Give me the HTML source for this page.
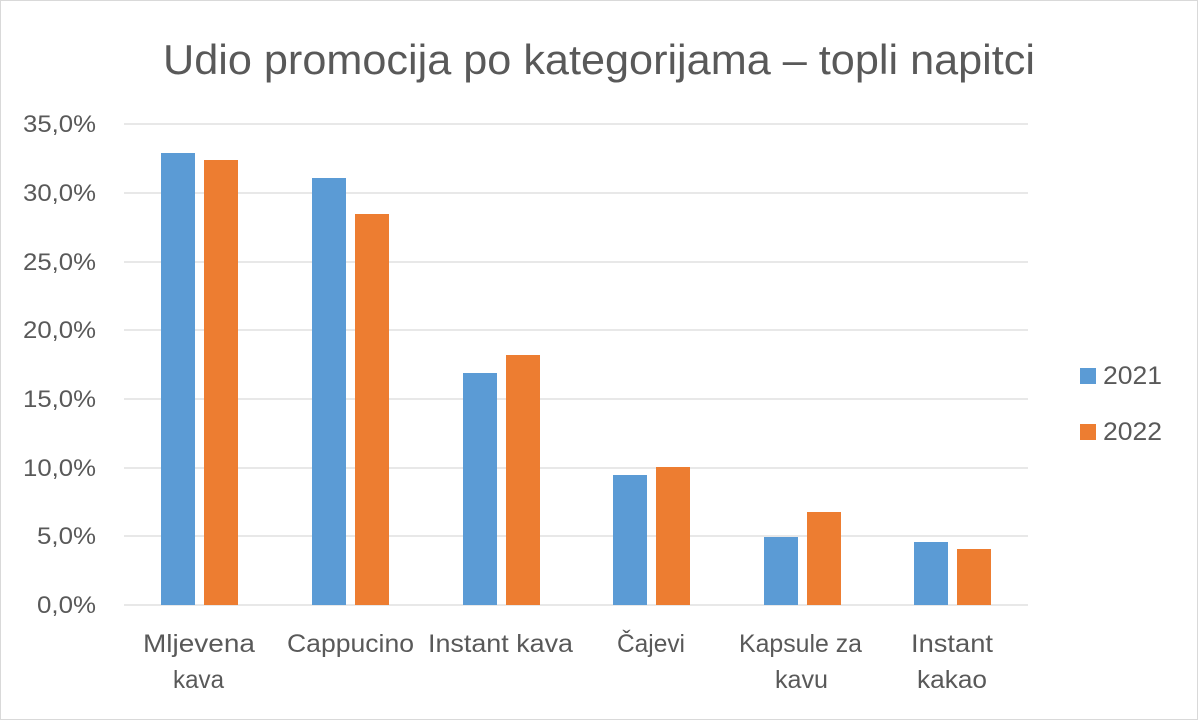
<!DOCTYPE html>
<html><head><meta charset="utf-8"><style>
html,body{margin:0;padding:0;background:#fff;}
svg{display:block;font-family:"Liberation Sans","DejaVu Sans",sans-serif;}
</style></head><body>
<svg width="1198" height="720" viewBox="0 0 1198 720" xmlns="http://www.w3.org/2000/svg">
<rect x="0.5" y="0.5" width="1197" height="719" fill="#fff" stroke="#d9d9d9"/>
<text x="163" y="74" font-size="42" fill="#595959" textLength="872" lengthAdjust="spacingAndGlyphs">Udio promocija po kategorijama – topli napitci</text>
<g stroke="#d9d9d9" stroke-width="1.3">
<line x1="124" x2="1028" y1="124" y2="124"/>
<line x1="124" x2="1028" y1="193" y2="193"/>
<line x1="124" x2="1028" y1="262" y2="262"/>
<line x1="124" x2="1028" y1="330" y2="330"/>
<line x1="124" x2="1028" y1="399" y2="399"/>
<line x1="124" x2="1028" y1="468" y2="468"/>
<line x1="124" x2="1028" y1="536" y2="536"/>
<line x1="124" x2="1028" y1="605" y2="605"/>
</g>
<g font-size="24" fill="#595959">
<text x="23" y="132" textLength="73" lengthAdjust="spacingAndGlyphs">35,0%</text>
<text x="23" y="201" textLength="73" lengthAdjust="spacingAndGlyphs">30,0%</text>
<text x="23" y="270" textLength="73" lengthAdjust="spacingAndGlyphs">25,0%</text>
<text x="23" y="338" textLength="73" lengthAdjust="spacingAndGlyphs">20,0%</text>
<text x="23" y="407" textLength="73" lengthAdjust="spacingAndGlyphs">15,0%</text>
<text x="23" y="476" textLength="73" lengthAdjust="spacingAndGlyphs">10,0%</text>
<text x="37" y="544" textLength="59" lengthAdjust="spacingAndGlyphs">5,0%</text>
<text x="37" y="613" textLength="59" lengthAdjust="spacingAndGlyphs">0,0%</text>
</g>
<g fill="#5B9BD5">
<rect x="161" y="153" width="34" height="452"/>
<rect x="312" y="178" width="34" height="427"/>
<rect x="463" y="373" width="34" height="232"/>
<rect x="613" y="475" width="34" height="130"/>
<rect x="764" y="537" width="34" height="68"/>
<rect x="914" y="542" width="34" height="63"/>
</g>
<g fill="#ED7D31">
<rect x="204" y="160" width="34" height="445"/>
<rect x="355" y="214" width="34" height="391"/>
<rect x="506" y="355" width="34" height="250"/>
<rect x="656" y="467" width="34" height="138"/>
<rect x="807" y="512" width="34" height="93"/>
<rect x="957" y="549" width="34" height="56"/>
</g>
<g font-size="25" fill="#595959">
<text x="143" y="652" textLength="112" lengthAdjust="spacingAndGlyphs">Mljevena</text>
<text x="173" y="688" textLength="51" lengthAdjust="spacingAndGlyphs">kava</text>
<text x="287" y="652" textLength="127" lengthAdjust="spacingAndGlyphs">Cappucino</text>
<text x="428" y="652" textLength="145" lengthAdjust="spacingAndGlyphs">Instant kava</text>
<text x="617" y="652" textLength="68" lengthAdjust="spacingAndGlyphs">Čajevi</text>
<text x="739" y="652" textLength="123" lengthAdjust="spacingAndGlyphs">Kapsule za</text>
<text x="775" y="688" textLength="53" lengthAdjust="spacingAndGlyphs">kavu</text>
<text x="911" y="652" textLength="82" lengthAdjust="spacingAndGlyphs">Instant</text>
<text x="917" y="688" textLength="70" lengthAdjust="spacingAndGlyphs">kakao</text>
</g>
<rect x="1080" y="368" width="16" height="16" fill="#5B9BD5"/>
<rect x="1080" y="424" width="16" height="16" fill="#ED7D31"/>
<g font-size="25" fill="#595959">
<text x="1103" y="384" textLength="59" lengthAdjust="spacingAndGlyphs">2021</text>
<text x="1103" y="440" textLength="59" lengthAdjust="spacingAndGlyphs">2022</text>
</g>
</svg>
</body></html>
